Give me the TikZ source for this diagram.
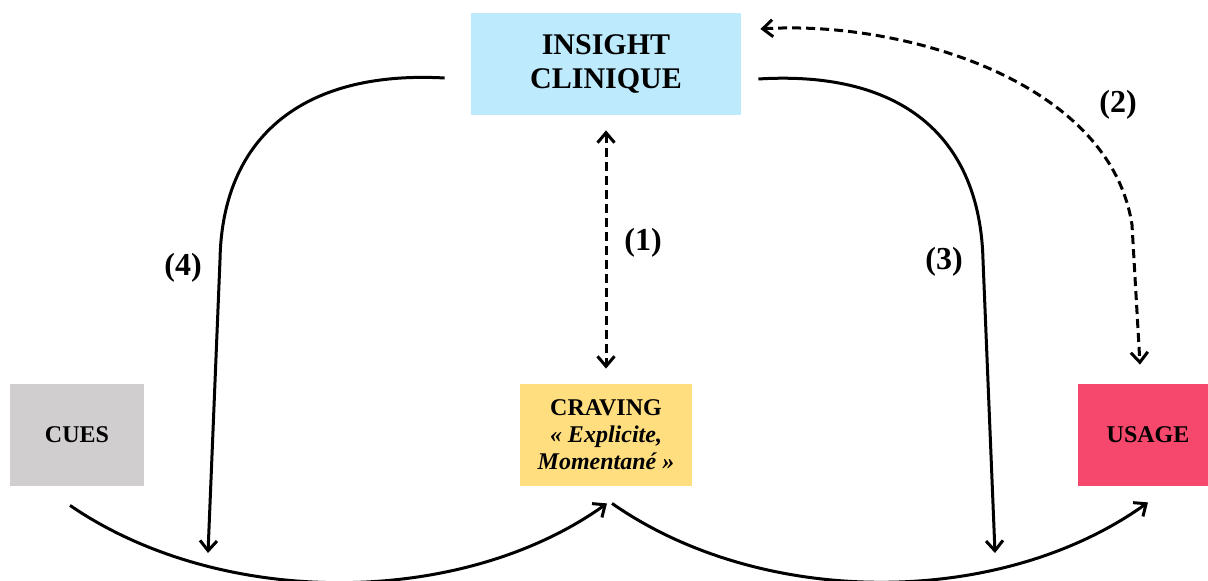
\documentclass[tikz,border=0pt]{standalone}
\usepackage{fontspec}
\setmainfont{Liberation Serif}
\usepackage{xcolor}
\usetikzlibrary{arrows.meta}
\definecolor{bleuinsight}{RGB}{189,234,252}
\definecolor{jaunecraving}{RGB}{255,222,128}
\definecolor{griscues}{RGB}{208,206,206}
\definecolor{rougeusage}{RGB}{245,72,108}

\begin{document}
\begin{tikzpicture}[x=0.5pt,y=-0.5pt,
  >={Straight Barb[length=5pt,width=8.5pt]},
  boite/.style={inner sep=0pt, align=center, minimum height=51pt},
  etiq/.style={font=\fontsize{16}{18}\selectfont\bfseries},
  fleche/.style={line width=1.5pt, ->},
  tirets/.style={line width=1.5pt, dash pattern=on 4.5pt off 2.5pt}]
  \useasboundingbox (0,0) rectangle (1208,581);

  % Boites
  \node[boite, fill=bleuinsight, minimum width=135pt,
    font=\fontsize{15}{17}\selectfont\bfseries] (insight) at (606,64) {INSIGHT\\CLINIQUE};
  \node[boite, fill=jaunecraving, minimum width=86pt,
    font=\fontsize{12}{13.5}\selectfont\bfseries] (craving) at (606,435)
    {CRAVING\\\textit{«~Explicite,}\\\textit{Momentané~»}};
  \node[boite, fill=griscues, minimum width=67pt,
    font=\fontsize{12}{14}\selectfont\bfseries] (cues) at (77,435) {CUES};
  \node[boite, fill=rougeusage, minimum width=65pt, text width=65pt,
    font=\fontsize{12}{14}\selectfont\bfseries] (usage) at (1143,435) {\hspace*{5pt}USAGE};

  % Points d'attache
  \coordinate (cuesOut) at ([shift={(-7,19)}]cues.south);
  \coordinate (cravIn) at ([shift={(1,17)}]craving.south);
  \coordinate (cravOut) at ([shift={(6,17)}]craving.south);
  \coordinate (usageIn) at ([shift={(5,16)}]usage.south);
  \coordinate (insW) at ([shift={(-26,14)}]insight.west);
  \coordinate (insE) at ([shift={(17,15)}]insight.east);
  \coordinate (insNE) at ([shift={(19,-35)}]insight.east);
  \coordinate (usageTop) at ([shift={(-3,-19)}]usage.north);
  \coordinate (fin4) at (208,553);
  \coordinate (fin3) at (995,553);

  % Fleches du bas
  \draw[fleche] (cuesOut) .. controls +(150,103) and +(-147,105) .. (cravIn);
  \draw[fleche] (cravOut) .. controls +(150,105) and +(-148,106) .. (usageIn);

  % (1)
  \draw[tirets, <->, shorten >=7.5pt, shorten <=7.5pt] (insight.south) -- (craving.north);
  \node[etiq] (l1) at (643,243) {(1)};

  % (2)
  \draw[tirets, <->] (insNE) .. controls +(140,-9) and +(-22,-145) .. (1132,225) -- (usageTop);
  \node[etiq] (l2) at (1118,105) {(2)};

  % (3)
  \draw[fleche] (insE) .. controls +(147,-9) and +(-3,-120) .. (983,260) -- (fin3);
  \node[etiq] (l3) at (944,262) {(3)};

  % (4)
  \draw[fleche] (insW) .. controls +(-145,-8) and +(2,-120) .. (220,260) -- (fin4);
  \node[etiq] (l4) at (183,268) {(4)};
\end{tikzpicture}
\end{document}
